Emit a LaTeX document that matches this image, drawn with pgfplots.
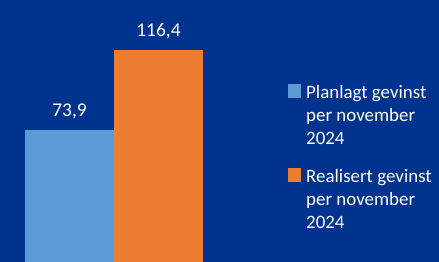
\documentclass[border=0pt]{standalone}
\usepackage{fontspec}
\setmainfont{Carlito}
\usepackage{pgfplots}
\pgfplotsset{compat=1.18}
\definecolor{bg}{HTML}{00338D}
\definecolor{cblue}{HTML}{5B9BD5}
\definecolor{corange}{HTML}{ED7D31}
\begin{document}
\begin{tikzpicture}
\fill[bg] (0,0) rectangle (439bp,262bp);
\useasboundingbox (0,0) rectangle (439bp,262bp);
\begin{axis}[
 at={(25bp,0bp)}, anchor=south west,
 scale only axis, width=178bp, height=262bp,
 hide axis,
 xmin=-1, xmax=1, ymin=3.7, ymax=142.9,
 ybar=0pt, bar width=89bp,
 nodes near coords, point meta=explicit symbolic,
 every node near coord/.append style={font=\fontsize{19.5}{23}\selectfont, text=white, anchor=south, inner sep=0pt, yshift=11bp},
 legend style={at={(1.4775,0.679)}, anchor=north west, draw=none, fill=none, text=white,
   font=\fontsize{19}{23.3}\selectfont, cells={anchor=base west, align=left},
   nodes={inner sep=0pt}, row sep=22bp, column sep=5bp, inner sep=0pt},
 area legend,
 legend image code/.code={\path (0bp,0bp); \fill[#1] (0bp,46.6bp) rectangle (13bp,60.6bp);},
]
\addplot[fill=cblue, draw=none] coordinates {(0,73.9) [73,9]};
\addplot[fill=corange, draw=none] coordinates {(0,116.4) [116,4]};
\legend{{Planlagt gevinst\\per november\\2024},{Realisert gevinst\\per november\\2024}}
\end{axis}
\end{tikzpicture}
\end{document}
